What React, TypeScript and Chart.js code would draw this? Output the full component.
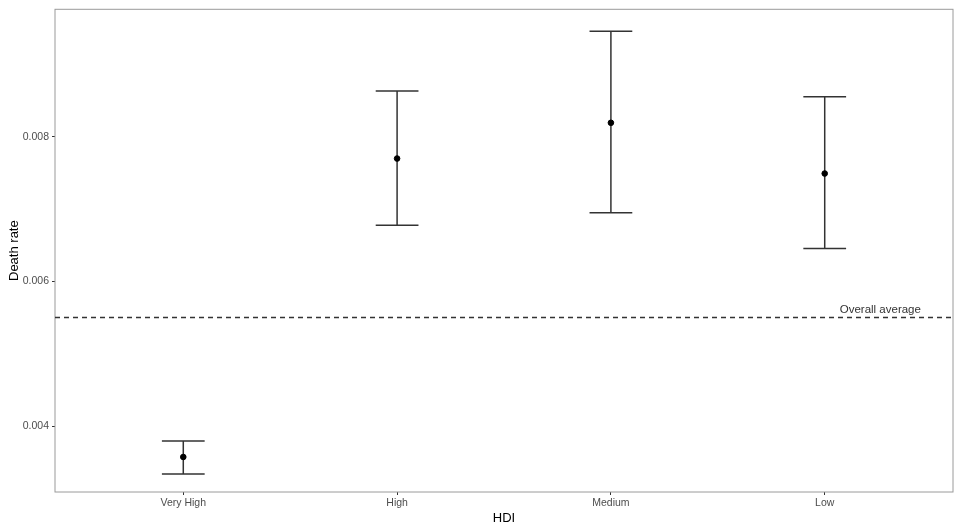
import React, { useEffect, useRef } from 'react';
import { Chart, registerables } from 'chart.js';

Chart.register(...registerables);

const categories = ['Very High', 'High', 'Medium', 'Low'];
const means = [0.003574, 0.007698, 0.008192, 0.007491];
const lower = [0.00334, 0.006777, 0.006948, 0.006454];
const upper = [0.003794, 0.008632, 0.009457, 0.00855];
const yTicks = [0.004, 0.006, 0.008];
const overallAverage = 0.0055;
const averageLabel = 'Overall average';

const FONT = '"Liberation Sans", Arial, sans-serif';

// error bars, panel border and the average label
const errorBarPlugin = {
  id: 'errorBars',
  beforeDatasetsDraw(chart: any) {
    const { ctx, chartArea, scales } = chart;
    const x = scales.x;
    const y = scales.y;
    ctx.save();
    ctx.strokeStyle = '#333333';
    ctx.lineWidth = 1.5;
    categories.forEach((_, i) => {
      const cx = x.getPixelForValue(i + 1);
      const x0 = x.getPixelForValue(i + 1 - 0.1);
      const x1 = x.getPixelForValue(i + 1 + 0.1);
      const yl = y.getPixelForValue(lower[i]);
      const yu = y.getPixelForValue(upper[i]);
      ctx.beginPath();
      ctx.moveTo(cx, yl);
      ctx.lineTo(cx, yu);
      ctx.moveTo(x0, yl);
      ctx.lineTo(x1, yl);
      ctx.moveTo(x0, yu);
      ctx.lineTo(x1, yu);
      ctx.stroke();
    });

    const ya = y.getPixelForValue(overallAverage);
    ctx.fillStyle = '#333333';
    ctx.font = `11.5px ${FONT}`;
    ctx.textAlign = 'center';
    ctx.textBaseline = 'bottom';
    ctx.fillText(averageLabel, x.getPixelForValue(4.26), ya - 2.5);

    ctx.strokeStyle = '#9a9a9a';
    ctx.lineWidth = 1;
    ctx.strokeRect(chartArea.left, chartArea.top, chartArea.right - chartArea.left, chartArea.bottom - chartArea.top);
    ctx.restore();
  },
};

const App: React.FC = () => {
  const chartRef = useRef<HTMLCanvasElement | null>(null);
  const chartInstance = useRef<Chart | null>(null);

  useEffect(() => {
    document.body.style.margin = '0';
    if (!chartRef.current) return;
    const ctx = chartRef.current.getContext('2d');
    if (!ctx) return;

    chartInstance.current = new Chart(ctx, {
      type: 'scatter',
      data: {
        datasets: [
          {
            label: 'average',
            data: [
              { x: 0.4, y: overallAverage },
              { x: 4.6, y: overallAverage },
            ],
            showLine: true,
            borderColor: '#333333',
            borderWidth: 1.5,
            borderDash: [5, 4],
            pointRadius: 0,
            order: 2,
          },
          {
            label: 'Death rate',
            data: means.map((m, i) => ({ x: i + 1, y: m })),
            backgroundColor: '#000000',
            borderColor: '#000000',
            pointRadius: 2.8,
            order: 1,
          },
        ],
      },
      options: {
        animation: false,
        responsive: false,
        layout: { padding: { top: 7, right: 7, left: 0, bottom: 0 } },
        plugins: {
          legend: { display: false },
          tooltip: { enabled: false },
        },
        scales: {
          x: {
            type: 'linear',
            min: 0.4,
            max: 4.6,
            afterBuildTicks: (scale: any) => {
              scale.ticks = categories.map((_, i) => ({ value: i + 1 }));
            },
            afterFit: (scale: any) => {
              scale.height = 34;
            },
            grid: { drawOnChartArea: false, drawTicks: true, tickLength: 3, color: '#333333' },
            border: { display: false },
            ticks: {
              autoSkip: false,
              maxRotation: 0,
              padding: 2,
              color: '#4d4d4d',
              font: { family: FONT, size: 10.5 },
              callback: (v: any) => categories[Math.round(Number(v)) - 1] ?? '',
            },
            title: {
              display: true,
              text: 'HDI',
              color: '#000000',
              font: { family: FONT, size: 13 },
              padding: { top: 0, bottom: 0 },
            },
          },
          y: {
            min: 0.00309,
            max: 0.00976,
            afterBuildTicks: (scale: any) => {
              scale.ticks = yTicks.map((v) => ({ value: v }));
            },
            afterFit: (scale: any) => {
              scale.width = 55;
            },
            grid: { drawOnChartArea: false, drawTicks: true, tickLength: 3, color: '#333333' },
            border: { display: false },
            ticks: {
              padding: 3,
              color: '#4d4d4d',
              font: { family: FONT, size: 10.5 },
              callback: (v: any) => Number(v).toFixed(3),
            },
            title: {
              display: true,
              text: 'Death rate',
              color: '#000000',
              font: { family: FONT, size: 13 },
              padding: { top: 7, bottom: 0 },
            },
          },
        },
      },
      plugins: [errorBarPlugin],
    });

    return () => {
      if (chartInstance.current) {
        chartInstance.current.destroy();
        chartInstance.current = null;
      }
    };
  }, []);

  return (
    <div style={{ width: 960, height: 526, background: '#ffffff' }}>
      <canvas ref={chartRef} width={960} height={526}></canvas>
    </div>
  );
};

export default App;
